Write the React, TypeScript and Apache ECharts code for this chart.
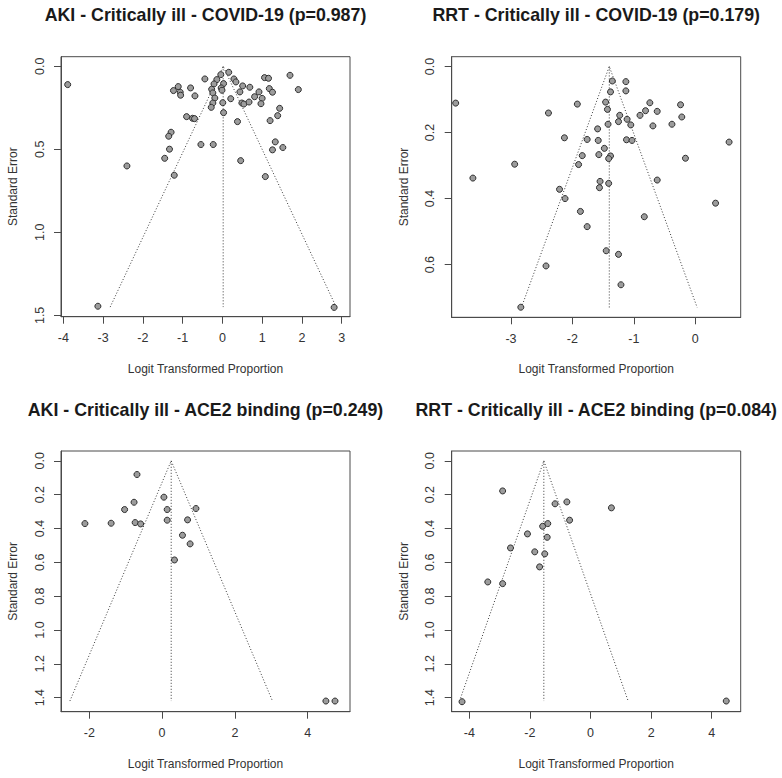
import React, { useEffect, useRef } from "react";
import * as echarts from "echarts";

// ---------- data ----------
const titles = [
  "AKI - Critically ill - COVID-19 (p=0.987)",
  "RRT - Critically ill - COVID-19 (p=0.179)",
  "AKI - Critically ill - ACE2 binding (p=0.249)",
  "RRT - Critically ill - ACE2 binding (p=0.084)",
];

const xAxisTitle = "Logit Transformed Proportion";
const yAxisTitle = "Standard Error";

// AKI - COVID-19
const akiCovidX = [-3.89, -0.44, -0.04, 0.16, -0.14, -0.21, 0.03, 0.29, 0.34, 1.06, 1.16, 1.7, 1.91, -1.23, -1.11, -1.06, -1.05, -0.8, -0.69, -0.27, -0.24, -0.03, -0.01, -0.19, -0.24, -0.28, 0.01, 0.03, 0.21, 0.44, 0.51, 0.69, 0.49, 0.54, 0.67, 0.81, 0.92, 1.0, 0.97, 1.18, 1.26, 1.44, 1.39, 1.2, 0.38, -0.9, -0.75, -0.7, -1.29, -1.35, -1.33, -1.45, -0.54, -0.23, 1.33, 1.26, 1.52, 0.46, -2.4, -1.21, 1.08, -3.13, 2.81];
const akiCovidSE = [0.11, 0.076, 0.05, 0.036, 0.08, 0.106, 0.104, 0.076, 0.094, 0.068, 0.072, 0.054, 0.14, 0.146, 0.122, 0.156, 0.174, 0.13, 0.178, 0.138, 0.16, 0.13, 0.144, 0.191, 0.221, 0.247, 0.219, 0.279, 0.195, 0.154, 0.118, 0.126, 0.221, 0.227, 0.215, 0.183, 0.154, 0.193, 0.225, 0.134, 0.156, 0.253, 0.297, 0.327, 0.333, 0.303, 0.313, 0.315, 0.397, 0.421, 0.499, 0.554, 0.471, 0.471, 0.455, 0.503, 0.489, 0.568, 0.6, 0.656, 0.664, 1.445, 1.452];
const akiCovidEst = 0.02;
const akiCovidMaxSE = 1.45;

// RRT - COVID-19
const rrtCovidX = [-3.9, -1.35, -1.13, -1.38, -1.13, -1.92, -2.39, -1.46, -1.43, -1.23, -1.25, -1.11, -1.05, -1.42, -0.9, -0.81, -0.74, -0.62, -0.69, -0.38, -0.24, -0.22, 0.55, -1.59, -2.13, -1.76, -1.58, -1.12, -1.03, -1.48, -1.57, -1.38, -1.41, -1.84, -1.9, -2.94, -0.16, -3.62, -1.55, -1.56, -1.41, -0.62, -2.21, -2.12, -1.87, -0.83, 0.33, -1.76, -1.45, -1.25, -2.43, -1.21, -2.84];
const rrtCovidSE = [0.111, 0.044, 0.046, 0.077, 0.074, 0.114, 0.141, 0.108, 0.13, 0.148, 0.167, 0.16, 0.177, 0.175, 0.148, 0.134, 0.11, 0.136, 0.18, 0.175, 0.116, 0.153, 0.229, 0.189, 0.216, 0.221, 0.224, 0.222, 0.224, 0.248, 0.267, 0.271, 0.279, 0.27, 0.297, 0.296, 0.278, 0.338, 0.348, 0.367, 0.354, 0.344, 0.372, 0.4, 0.439, 0.455, 0.414, 0.485, 0.558, 0.569, 0.604, 0.661, 0.729];
const rrtCovidEst = -1.4;
const rrtCovidMaxSE = 0.73;

// AKI - ACE2 binding
const akiAce2X = [-0.69, -0.77, -1.03, 0.05, 0.14, 0.93, -2.12, -1.4, -0.74, -0.59, 0.14, 0.7, 0.56, 0.77, 0.34, 4.5, 4.75];
const akiAce2SE = [0.081, 0.245, 0.288, 0.215, 0.288, 0.282, 0.371, 0.369, 0.365, 0.373, 0.351, 0.349, 0.44, 0.491, 0.586, 1.42, 1.42];
const akiAce2Est = 0.25;
const akiAce2MaxSE = 1.42;

// RRT - ACE2 binding
const rrtAce2X = [-2.9, -1.17, -0.78, 0.69, -0.69, -1.58, -1.41, -2.08, -1.43, -2.64, -1.84, -1.51, -1.68, -3.39, -2.9, -4.24, 4.48];
const rrtAce2SE = [0.178, 0.254, 0.243, 0.278, 0.351, 0.387, 0.371, 0.432, 0.452, 0.515, 0.538, 0.55, 0.627, 0.716, 0.726, 1.424, 1.42];
const rrtAce2Est = -1.54;
const rrtAce2MaxSE = 1.42;

// tick labels
const xTicksAkiCovid = [-4, -3, -2, -1, 0, 1, 2, 3];
const yTicksAkiCovid = [0, 0.5, 1.0, 1.5];
const xTicksRrtCovid = [-3, -2, -1, 0];
const yTicksRrtCovid = [0, 0.2, 0.4, 0.6];
const xTicksAkiAce2 = [-2, 0, 2, 4];
const yTicksAce2 = [0, 0.2, 0.4, 0.6, 0.8, 1.0, 1.2, 1.4];
const xTicksRrtAce2 = [-4, -2, 0, 2, 4];

// ---------- layout (pixels / axis ranges) ----------
const panels = [
  { title: titles[0], x: akiCovidX, se: akiCovidSE, est: akiCovidEst, maxSE: akiCovidMaxSE, xTicks: xTicksAkiCovid, yTicks: yTicksAkiCovid, xRange: [-4.058, 3.209], yRange: [-0.058, 1.508], box: [61, 56.7, 289, 260], titleY: 15 },
  { title: titles[1], x: rrtCovidX, se: rrtCovidSE, est: rrtCovidEst, maxSE: rrtCovidMaxSE, xTicks: xTicksRrtCovid, yTicks: yTicksRrtCovid, xRange: [-3.965, 0.739], yRange: [-0.0295, 0.7595], box: [451.7, 56.7, 289, 260.6], titleY: 15 },
  { title: titles[2], x: akiAce2X, se: akiAce2SE, est: akiAce2Est, maxSE: akiAce2MaxSE, xTicks: xTicksAkiAce2, yTicks: yTicksAce2, xRange: [-2.777, 5.162], yRange: [-0.058, 1.483], box: [61, 451, 289, 260.7], titleY: 409.5 },
  { title: titles[3], x: rrtAce2X, se: rrtAce2SE, est: rrtAce2Est, maxSE: rrtAce2MaxSE, xTicks: xTicksRrtAce2, yTicks: yTicksAce2, xRange: [-4.581, 4.957], yRange: [-0.058, 1.483], box: [451.7, 451, 289, 260.7], titleY: 409.5 },
];

const FONT = "'Liberation Sans', Arial, Helvetica, sans-serif";
const BOX = "#4a4a4a";
const TEXT = "#333333";

function buildOption() {
  const grid: any[] = [];
  const xAxis: any[] = [];
  const yAxis: any[] = [];
  const series: any[] = [];
  const title: any[] = [];

  panels.forEach((p, i) => {
    const [l, t, w, h] = p.box;
    grid.push({ left: l, top: t, width: w, height: h, show: true, borderColor: BOX, borderWidth: 1, backgroundColor: "transparent" });
    title.push({
      text: p.title,
      left: l + w / 2,
      top: p.titleY,
      textAlign: "center",
      textVerticalAlign: "middle",
      padding: 0,
      textStyle: { fontFamily: FONT, fontSize: 17.8, fontWeight: "bold", color: "#1a1a1a" },
    });
    xAxis.push({
      gridIndex: i,
      type: "value",
      min: p.xRange[0],
      max: p.xRange[1],
      axisLine: { show: true, onZero: false, lineStyle: { color: BOX, width: 1 } },
      axisTick: { show: true, customValues: p.xTicks, length: 7, inside: false, lineStyle: { color: BOX, width: 1 } },
      axisLabel: { customValues: p.xTicks, margin: 15, fontSize: 12.5, fontFamily: FONT, color: TEXT, formatter: (v: number) => String(v) },
      splitLine: { show: false },
      name: xAxisTitle,
      nameLocation: "middle",
      nameGap: 46,
      nameTextStyle: { fontSize: 12, fontFamily: FONT, color: TEXT },
    });
    yAxis.push({
      gridIndex: i,
      type: "value",
      inverse: true,
      min: p.yRange[0],
      max: p.yRange[1],
      axisLine: { show: true, onZero: false, lineStyle: { color: BOX, width: 1 } },
      axisTick: { show: true, customValues: p.yTicks, length: 7, inside: false, lineStyle: { color: BOX, width: 1 } },
      axisLabel: { customValues: p.yTicks, rotate: 90, margin: 15, fontSize: 12.5, fontFamily: FONT, color: TEXT, formatter: (v: number) => v.toFixed(1) },
      splitLine: { show: false },
      name: yAxisTitle,
      nameLocation: "middle",
      nameGap: 42,
      nameRotate: 90,
      nameTextStyle: { fontSize: 12, fontFamily: FONT, color: TEXT },
    });
    const lo = p.est - 1.96 * p.maxSE;
    const hi = p.est + 1.96 * p.maxSE;
    series.push({
      type: "line",
      xAxisIndex: i,
      yAxisIndex: i,
      data: [[lo, p.maxSE], [p.est, 0], [hi, p.maxSE]],
      symbol: "none",
      silent: true,
      lineStyle: { color: "#3a3a3a", width: 1, type: [1, 2] },
      z: 1,
    });
    series.push({
      type: "line",
      xAxisIndex: i,
      yAxisIndex: i,
      data: [[p.est, 0], [p.est, p.maxSE]],
      symbol: "none",
      silent: true,
      lineStyle: { color: "#3a3a3a", width: 1, type: [1, 2] },
      z: 1,
    });
    series.push({
      type: "scatter",
      xAxisIndex: i,
      yAxisIndex: i,
      data: p.x.map((v, k) => [v, p.se[k]]),
      symbol: "circle",
      symbolSize: 6,
      itemStyle: { color: "#9c9c9c", borderColor: "#2e2e2e", borderWidth: 1, opacity: 1 },
      z: 3,
    });
  });

  return { animation: false, backgroundColor: "#ffffff", title, grid, xAxis, yAxis, series };
}

export default function App() {
  const ref = useRef<HTMLDivElement>(null);
  useEffect(() => {
    if (!ref.current) return;
    const chart = echarts.init(ref.current, undefined, { renderer: "svg" });
    chart.setOption(buildOption() as any);
    return () => chart.dispose();
  }, []);
  return (
    <div
      ref={ref}
      style={{ position: "fixed", left: 0, top: 0, width: 782, height: 778, background: "#fff" }}
    />
  );
}
